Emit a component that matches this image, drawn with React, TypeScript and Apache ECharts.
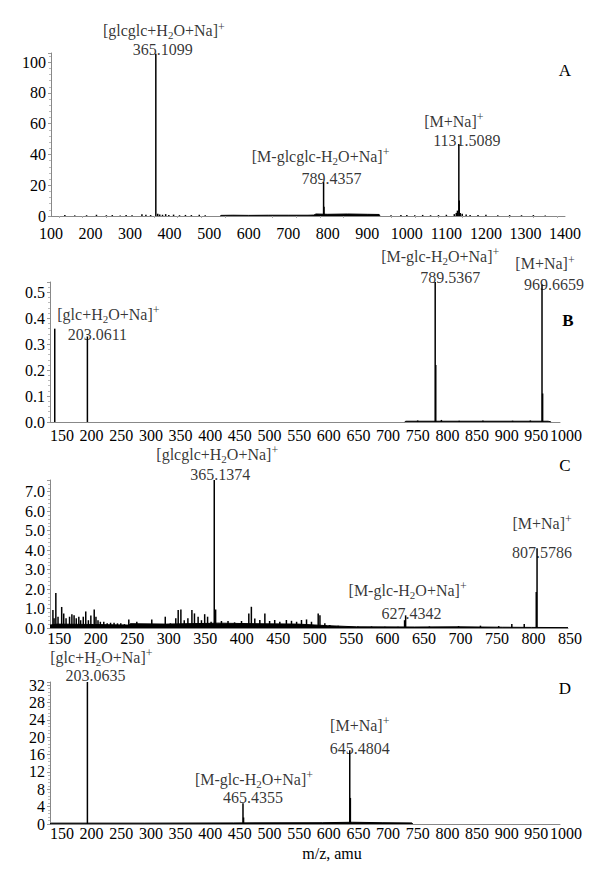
import React, { useEffect, useRef } from "react";
import * as echarts from "echarts";

const FONT = "'Liberation Serif', 'Times New Roman', serif";

// ---------- Panel A ----------
const aTicks = [100, 200, 300, 400, 500, 600, 700, 800, 900, 1000, 1100, 1200, 1300, 1400];
const aPeaks: number[][] = [
  [365.1099, 105.5], [789.4357, 22], [790.4, 6], [1131.5089, 46.8], [1132.5, 10],
];
const aNoise: number[][] = [
  [135, 0.6], [160, 0.4], [190, 0.5], [215, 0.8], [240, 0.5], [255, 0.6], [275, 0.4], [290, 0.7],
  [305, 0.5], [330, 1.2], [340, 0.8], [352, 0.6], [370, 1.5], [375, 1.0], [382, 0.8], [390, 1.2],
  [398, 0.6], [410, 0.9], [425, 0.5], [440, 0.7], [455, 0.6], [475, 0.8], [490, 0.5], [960, 0.5],
  [985, 0.6], [1000, 0.6], [1020, 0.5], [1040, 0.7], [1060, 0.5], [1080, 0.6], [1100, 0.8],
  [1120, 1.2], [1125, 2.0], [1128, 3.5], [1135, 2.0], [1140, 1.5], [1150, 1.0], [1160, 0.7],
  [1180, 0.6], [1200, 0.8], [1230, 0.5], [1260, 0.6], [1290, 0.5], [1320, 0.6], [1350, 0.4],
];
const aBand: number[][] = [
  [528, 0], [530, 0.4], [560, 0.5], [600, 0.4], [650, 0.5], [700, 0.5], [750, 0.5], [765, 0.6],
  [770, 1.3], [800, 1.1], [850, 1.3], [900, 1.1], [930, 1.0], [932, 0],
];
const aNotes = [
  { mz: 365.1099, name: "[glcglc+H2O+Na]+", text: "365.1099" },
  { mz: 789.4357, name: "[M-glcglc-H2O+Na]+", text: "789.4357" },
  { mz: 1131.5089, name: "[M+Na]+", text: "1131.5089" },
];

// ---------- Panel B ----------
const bTicks = [150, 200, 250, 300, 350, 400, 450, 500, 550, 600, 650, 700, 750, 800, 850, 900, 950, 1000];
const bPeaks: number[][] = [
  [148, 0.36], [203.0611, 0.33], [789.5367, 0.55], [790.5, 0.22], [969.6659, 0.53], [970.7, 0.11],
];
const bNoise: number[][] = [
  [760, 0.006], [800, 0.008], [830, 0.005], [870, 0.006], [920, 0.005], [950, 0.006],
];
const bBand: number[][] = [[738, 0], [740, 0.003], [980, 0.003], [985, 0]];
const bNotes = [
  { mz: 203.0611, name: "[glc+H2O+Na]+", text: "203.0611" },
  { mz: 789.5367, name: "[M-glc-H2O+Na]+", text: "789.5367" },
  { mz: 969.6659, name: "[M+Na]+", text: "969.6659" },
];

// ---------- Panel C ----------
const cTicks = [150, 200, 250, 300, 350, 400, 450, 500, 550, 600, 650, 700, 750, 800, 850];
const cPeaks: number[][] = [
  [365.1374, 7.7], [367, 0.95], [627.4342, 0.65], [806.5, 1.85], [807.5786, 4.1],
];
const cNoise: number[][] = [
  [144, 0.92], [145.6, 0.5], [148, 1.8], [151, 0.58], [156, 1.08], [158.8, 0.75], [162, 0.5],
  [166.8, 0.58], [170, 0.71], [173, 0.66], [176, 0.5], [179.5, 0.58], [182, 0.4], [185.6, 0.58],
  [189, 0.85], [192.6, 0.4], [196, 0.64], [200.6, 0.95], [203, 0.58], [205.8, 0.4], [209, 0.32],
  [213.7, 0.32], [218.4, 0.24], [223, 0.27], [227.8, 0.27], [232.5, 0.24], [237, 0.24], [242, 0.2],
  [248, 0.44], [253.7, 0.2], [259, 0.32], [265, 0.2], [271.5, 0.2], [279.5, 0.44], [286.5, 0.2],
  [291, 0.2], [298, 0.58], [305, 0.24], [312.4, 0.5], [315.7, 0.92], [319.4, 0.95], [324, 0.4],
  [329, 0.5], [334.5, 0.92], [338, 0.75], [343, 0.58], [347.6, 0.4], [352, 0.71], [356, 0.58],
  [360.8, 0.32], [375, 0.36], [384, 0.36], [393, 0.29], [402.5, 0.36], [412.5, 0.75], [416, 1.09],
  [420.7, 0.49], [427.6, 0.41], [434.5, 0.75], [441, 0.36], [448, 0.41], [455, 0.32], [464, 0.41],
  [471, 0.37], [478, 0.32], [484.7, 0.41], [491.6, 0.44], [498.4, 0.32], [507.6, 0.75], [510, 0.66],
  [516.7, 0.24], [523.5, 0.15], [535, 0.12], [548.7, 0.1], [562, 0.08], [580.7, 0.08], [599, 0.07],
  [617, 0.07], [626, 0.4], [660, 0.08], [700, 0.1], [730, 0.12], [755, 0.1], [773, 0.2], [790, 0.2],
];
const cBand: number[][] = [
  [140, 0.15], [150, 0.2], [200, 0.18], [248, 0.15], [250, 0.22], [300, 0.2], [362, 0.24],
  [370, 0.25], [420, 0.22], [480, 0.2], [520, 0.12], [560, 0.06], [640, 0.05], [700, 0.06],
  [760, 0.04], [800, 0.03], [850, 0.02],
];
const cNotes = [
  { mz: 365.1374, name: "[glcglc+H2O+Na]+", text: "365.1374" },
  { mz: 627.4342, name: "[M-glc-H2O+Na]+", text: "627.4342" },
  { mz: 807.5786, name: "[M+Na]+", text: "807.5786" },
];

// ---------- Panel D ----------
const dTicks = [150, 200, 250, 300, 350, 400, 450, 500, 550, 600, 650, 700, 750, 800, 850, 900, 950, 1000];
const dPeaks: number[][] = [
  [203.0635, 34], [465.4355, 4.8], [466.4, 1.5], [645.4804, 17], [646.5, 6],
];
const dNoise: number[][] = [];
const dBand: number[][] = [
  [140, 0], [142, 0.2], [300, 0.2], [450, 0.25], [600, 0.3], [650, 0.4], [700, 0.3], [750, 0.25], [752, 0],
];
const dNotes = [
  { mz: 203.0635, name: "[glc+H2O+Na]+", text: "203.0635" },
  { mz: 465.4355, name: "[M-glc-H2O+Na]+", text: "465.4355" },
  { mz: 645.4804, name: "[M+Na]+", text: "645.4804" },
];

const panels = [
  {
    letter: "A", bold: false, ticks: aTicks, peaks: aPeaks, noise: aNoise, band: aBand, notes: aNotes,
    xMin: 100, xMax: 1400, yMax: 106, yInt: 20, yDec: 0,
    grid: { left: 51, top: 53, width: 514, height: 163 }, labelMargin: 9, labelShift: 0,
    letterPos: [565, 70],
    nameOff: [[8, -23], [-3, -26], [-5, -23]], numOff: [[7, -4], [8, -4], [8, -4]],
  },
  {
    letter: "B", bold: true, ticks: bTicks, peaks: bPeaks, noise: bNoise, band: bBand, notes: bNotes,
    xMin: 140, xMax: 1000, yMax: 0.54, yInt: 0.1, yDec: 1,
    grid: { left: 50, top: 282, width: 510, height: 140 }, labelMargin: 5, labelShift: 12,
    letterPos: [568, 320],
    nameOff: [[21, -22], [5, -26], [3, -21]], numOff: [[10, -2], [15, -5], [12, 0]],
  },
  {
    letter: "C", bold: false, ticks: cTicks, peaks: cPeaks, noise: cNoise, band: cBand, notes: cNotes,
    xMin: 140, xMax: 850, yMax: 7.6, yInt: 1, yDec: 1,
    grid: { left: 50, top: 480, width: 518, height: 148 }, labelMargin: 2, labelShift: 4,
    letterPos: [565, 465],
    nameOff: [[3, -26], [2, -25], [5, -25]], numOff: [[6, -6], [6, -2], [5, 4]],
  },
  {
    letter: "D", bold: false, ticks: dTicks, peaks: dPeaks, noise: dNoise, band: dBand, notes: dNotes,
    xMin: 140, xMax: 1000, yMax: 32.7, yInt: 4, yDec: 0,
    grid: { left: 50, top: 682, width: 510, height: 142 }, labelMargin: 1, labelShift: 12,
    letterPos: [565, 688],
    nameOff: [[14, -25], [11, -24], [10, -25]], numOff: [[8, -7], [10, -6], [10, -2]],
  },
];

function richName(s: string): string {
  return s.replace("H2O", "H{s|2}O").replace(/\]\+$/, "]{p|+}");
}

const rich = {
  s: { fontSize: 11, lineHeight: 9, verticalAlign: "bottom", fontFamily: FONT, color: "#000" },
  p: { fontSize: 12, lineHeight: 9, verticalAlign: "top", fontFamily: FONT, color: "#000" },
};

function buildOption() {
  const grid: any[] = [];
  const xAxis: any[] = [];
  const yAxis: any[] = [];
  const series: any[] = [];
  const graphic: any[] = [];

  panels.forEach((p, i) => {
    grid.push({ ...p.grid, containLabel: false });
    xAxis.push({
      type: "value",
      gridIndex: i,
      min: p.xMin,
      max: p.xMax,
      axisLine: { show: true, onZero: false, lineStyle: { color: "#888", width: 1 } },
      axisTick: { show: false, customValues: p.ticks },
      minorTick: { show: i === 0, splitNumber: 5, length: 2, lineStyle: { color: "#aaa" } },
      splitLine: { show: false },
      axisLabel: {
        customValues: p.ticks,
        showMinLabel: true,
        showMaxLabel: true,
        hideOverlap: false,
        fontSize: 16,
        fontFamily: FONT,
        color: "#000",
        margin: p.labelMargin,
        padding: [0, 0, 0, p.labelShift],
        formatter: (v: number) => String(v),
      },
    });
    yAxis.push({
      type: "value",
      gridIndex: i,
      min: 0,
      max: p.yMax,
      interval: p.yInt,
      axisLine: { show: true, lineStyle: { color: "#888", width: 1 } },
      axisTick: { show: true, length: 3, lineStyle: { color: "#999" } },
      minorTick: { show: true, splitNumber: 5, length: 2, lineStyle: { color: "#bbb" } },
      splitLine: { show: false },
      axisLabel: {
        fontSize: 16,
        fontFamily: FONT,
        color: "#000",
        margin: 5,
        showMaxLabel: false,
        formatter: (v: number) => v.toFixed(p.yDec),
      },
    });

    // noise band (filled baseline)
    series.push({
      type: "line",
      xAxisIndex: i,
      yAxisIndex: i,
      data: p.band,
      showSymbol: false,
      symbol: "none",
      lineStyle: { color: "#000", width: 1 },
      areaStyle: { color: "#000", opacity: 1 },
      z: 2,
      silent: true,
    });

    // stick spectrum
    series.push({
      type: "bar",
      xAxisIndex: i,
      yAxisIndex: i,
      data: [...p.noise, ...p.peaks],
      barWidth: 1.5,
      itemStyle: { color: "#000" },
      clip: true,
      z: 3,
      silent: true,
    });

    // annotations
    const noteData: any[] = [];
    p.notes.forEach((n, k) => {
      const peak = p.peaks.find((q) => q[0] === n.mz);
      const h = Math.min(peak ? peak[1] : 0, p.yMax);
      noteData.push({
        value: [n.mz, h],
        label: {
          show: true,
          position: "inside",
          offset: p.nameOff[k],
          formatter: richName(n.name),
          fontSize: 16,
          lineHeight: 20,
          fontFamily: FONT,
          color: "#000",
          rich,
        },
      });
      noteData.push({
        value: [n.mz, h],
        label: {
          show: true,
          position: "inside",
          offset: p.numOff[k],
          formatter: n.text,
          fontSize: 16,
          lineHeight: 16,
          fontFamily: FONT,
          color: "#000",
        },
      });
    });
    series.push({
      type: "scatter",
      xAxisIndex: i,
      yAxisIndex: i,
      data: noteData,
      symbolSize: 1,
      itemStyle: { color: "rgba(0,0,0,0)" },
      clip: false,
      z: 5,
      silent: true,
    });

    graphic.push({
      type: "text",
      x: p.letterPos[0],
      y: p.letterPos[1],
      style: {
        text: p.letter,
        fontSize: 17,
        fontFamily: FONT,
        fontWeight: p.bold ? "bold" : "normal",
        fill: "#000",
        align: "center",
        verticalAlign: "middle",
      },
    });
  });

  graphic.push({
    type: "text",
    x: 332,
    y: 853,
    style: {
      text: "m/z, amu",
      fontSize: 16,
      fontFamily: FONT,
      fill: "#000",
      align: "center",
      verticalAlign: "middle",
    },
  });

  return {
    animation: false,
    backgroundColor: "#fff",
    grid,
    xAxis,
    yAxis,
    series,
    graphic,
  };
}

export default function App() {
  const ref = useRef<HTMLDivElement>(null);
  useEffect(() => {
    document.body.style.margin = "0";
    if (!ref.current) return;
    const chart = echarts.init(ref.current, undefined, { renderer: "svg" });
    chart.setOption(buildOption() as any);
    return () => chart.dispose();
  }, []);
  return <div ref={ref} style={{ width: 600, height: 880, background: "#fff" }} />;
}
